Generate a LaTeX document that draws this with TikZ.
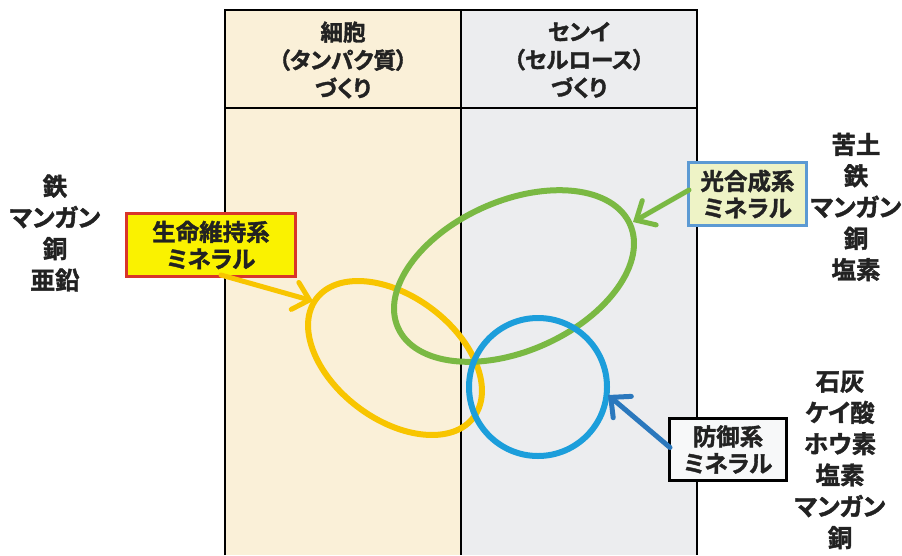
\documentclass[tikz,border=0pt]{standalone}
\usepackage{fontspec}
\newfontfamily\jp[RawFeature=+palt,FakeBold=1.6]{Noto Sans CJK JP Bold}
\usetikzlibrary{arrows.meta,calc,shapes.geometric}
\definecolor{beige}{HTML}{FAF0D8}
\definecolor{lgray}{HTML}{ECEDEF}
\definecolor{yel}{HTML}{F8C500}
\definecolor{grn}{HTML}{7AB943}
\definecolor{blu}{HTML}{1C9EDB}
\definecolor{dblu}{HTML}{2B78BD}
\definecolor{boxyel}{HTML}{FAF200}
\definecolor{boxred}{HTML}{D8352A}
\definecolor{boxgrn}{HTML}{EEF3C6}
\definecolor{boxblu}{HTML}{5C9AD3}
\definecolor{txt}{HTML}{222222}
\begin{document}
\begin{tikzpicture}[x=1pt,y=-1pt,
  lst/.style={font=\jp\fontsize{24.5}{31.3}\selectfont,text=txt,align=center,inner sep=0pt},
  hdr/.style={font=\jp\fontsize{22.5}{28}\selectfont,text=txt,align=center,inner sep=0pt},
  lbl/.style={font=\jp\fontsize{23.5}{27}\selectfont,text=txt,align=center,inner sep=0pt,line width=3pt},
  ring/.style={draw,ellipse,line width=6pt,inner sep=0pt,fill=none},
  arr/.style={line width=5pt,line cap=round,-{Straight Barb[length=15pt,width=28pt,line cap=round]}}
]
\useasboundingbox (0,0) rectangle (902,555);
\fill[white] (0,0) rectangle (902,555);
% table
\fill[beige] (225,10) rectangle (461,555);
\fill[lgray] (461,10) rectangle (697,555);
\draw[line width=1.6pt,black] (225,555) -- (225,10) -- (697,10) -- (697,555);
\draw[line width=1.6pt,black] (461,10) -- (461,555);
\draw[line width=1.6pt,black] (225,108) -- (697,108);
\node[hdr] (h1) at (343,60) {細胞\\（タンパク質）\\づくり};
\node[hdr] (h2) at (579,60) {センイ\\（セルロース）\\づくり};
% rings
\node[ring,draw=yel,minimum width=197pt,minimum height=123pt,rotate=-37] (yring) at (395,358) {};
\node[ring,draw=grn,minimum width=254pt,minimum height=150pt,rotate=24] (gring) at (514,276) {};
\node[ring,draw=blu,circle,minimum size=138pt] (bring) at (538,387) {};
% labels
\node[lbl,draw=boxred,fill=boxyel,minimum width=169pt,minimum height=63pt] (lifebox) at (211,245) {生命維持系\\ミネラル};
\node[lbl,draw=boxblu,fill=boxgrn,minimum width=118pt,minimum height=63pt] (photobox) at (747.5,194) {光合成系\\ミネラル};
\node[lbl,draw=black,fill=white!60!lgray,minimum width=117pt,minimum height=62pt] (defbox) at (728,449.5) {防御系\\ミネラル};
% arrow tips
\coordinate (ytip) at (313,301);
\coordinate (gtip) at (633,222);
\coordinate (btip) at (608,395);
\draw[arr,yel] ($(lifebox.south)+(10,-3)$) -- (ytip);
\draw[arr,grn] ($(photobox.west)+(2,-4)$) -- (gtip);
\draw[arr,dblu] ($(defbox.west)+(2,-2)$) -- (btip);
% lists
\node[lst] (leftlist) at (55,233) {鉄\\マンガン\\銅\\亜鉛};
\node[lst] (rtlist) at (856,207) {苦土\\鉄\\マンガン\\銅\\塩素};
\node[lst] (rblist) at (840,460) {石灰\\ケイ酸\\ホウ素\\塩素\\マンガン\\銅};
\end{tikzpicture}
\end{document}
